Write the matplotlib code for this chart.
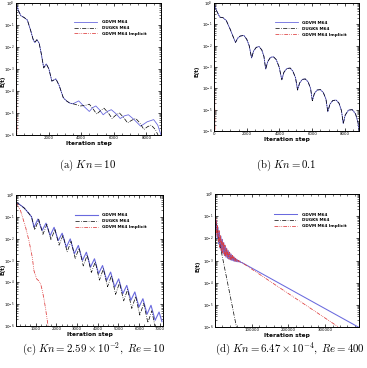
import numpy as np
import matplotlib.pyplot as plt
from matplotlib.ticker import FixedLocator, MultipleLocator, LogLocator, FormatStrFormatter

# ---- data (x = iteration, y = log10 E(t)) ----
# (a) Kn = 10
a_x_gdvm = [0, 150, 300, 500, 700, 900, 1050, 1150, 1280, 1420, 1550, 1700, 1860, 2020, 2200, 2450,
            2650, 2900, 3100, 3300, 3500, 3850, 4200, 4500, 4700, 4900, 5120, 5350, 5600, 5850, 6120,
            6400, 6650, 6900, 7250, 7650, 8050, 8450, 8700, 8900]
a_y_gdvm = [0, -0.35, -0.58, -0.66, -0.78, -1.25, -1.65, -1.8, -1.67, -1.82, -2.3, -2.95, -2.77, -3.0,
            -3.55, -3.45, -3.75, -4.3, -4.45, -4.55, -4.58, -4.45, -4.72, -4.93, -4.76, -4.68, -4.85,
            -5.08, -4.93, -4.85, -5.02, -5.25, -5.13, -5.08, -5.3, -5.6, -5.4, -5.3, -5.55, -6.0]
a_x_dugks = [0, 150, 300, 500, 700, 900, 1050, 1150, 1280, 1420, 1550, 1700, 1860, 2020, 2200, 2450,
             2650, 2900, 3100, 3300, 3600, 3950, 4220, 4500, 4720, 4950, 5180, 5400, 5650, 5900, 6120,
             6350, 6600, 6850, 7100, 7350, 7600, 7850, 8080, 8300, 8550, 8750]
a_y_dugks = [0, -0.35, -0.58, -0.66, -0.78, -1.25, -1.65, -1.8, -1.67, -1.82, -2.3, -2.95, -2.77, -3.0,
             -3.55, -3.45, -3.75, -4.3, -4.45, -4.55, -4.6, -4.68, -4.66, -4.6, -4.8, -5.05, -4.9,
             -4.78, -4.98, -5.25, -5.1, -5.0, -5.2, -5.45, -5.33, -5.25, -5.45, -5.75, -5.62, -5.55,
             -5.75, -6.05]
a_x_impl = [0, 20, 40, 60]
a_y_impl = [0, -2.0, -4.0, -6.1]

# (b) Kn = 0.1
b_x_gdvm = [0, 150, 350, 550, 750, 1000, 1180, 1313, 1450, 1600, 1826, 2000, 2150, 2297, 2420, 2580,
            2749, 2920, 3050, 3159, 3280, 3450, 3631, 3800, 3980, 4144, 4270, 4450, 4657, 4820, 4980,
            5108, 5230, 5400, 5580, 5750, 5900, 6010, 6130, 6300, 6503, 6680, 6840, 6954, 7080, 7260,
            7467, 7640, 7790, 7897, 8020, 8220, 8451, 8650, 8800, 8862]
b_y_gdvm = [0, -0.35, -0.66, -0.69, -0.82, -1.25, -1.6, -1.85, -1.65, -1.55, -1.52, -1.7, -2.0, -2.58,
            -2.25, -2.08, -2.04, -2.2, -2.5, -3.1, -2.75, -2.55, -2.52, -2.65, -3.0, -3.6, -3.25, -3.07,
            -3.05, -3.2, -3.5, -4.08, -3.75, -3.58, -3.56, -3.7, -4.0, -4.58, -4.25, -4.08, -4.06, -4.2,
            -4.5, -5.1, -4.75, -4.57, -4.55, -4.7, -5.05, -5.65, -5.25, -5.02, -5.0, -5.2, -5.6, -6.0]
b_x_dugks = b_x_gdvm
b_y_dugks = b_y_gdvm
b_x_impl = [0, 20, 40, 60]
b_y_impl = [0, -2.0, -4.0, -6.1]

# (c) Kn = 2.59e-2, Re = 10
c_x_gdvm = [50, 250, 450, 650, 800, 920, 1110, 1310, 1500, 1700, 1890, 2090, 2280, 2480, 2670, 2870,
            3060, 3260, 3450, 3650, 3840, 4040, 4230, 4430, 4620, 4820, 5010, 5210, 5400, 5600, 5790,
            5990, 6180, 6380, 6570, 6770, 6960, 7100]
c_y_gdvm = [-0.33, -0.45, -0.6, -0.82, -1.0, -1.48, -1.1, -1.63, -1.29, -1.86, -1.48, -2.09, -1.75,
            -2.39, -2.01, -2.69, -2.31, -3.0, -2.62, -3.3, -2.92, -3.6, -3.23, -3.91, -3.53, -4.22,
            -3.84, -4.52, -4.14, -4.82, -4.44, -5.13, -4.75, -5.46, -5.05, -5.74, -5.36, -5.8]
c_x_dugks = [50, 250, 450, 650, 800, 960, 1150, 1350, 1540, 1740, 1930, 2130, 2320, 2520, 2710, 2910,
             3100, 3300, 3490, 3690, 3880, 4080, 4270, 4470, 4660, 4860, 5050, 5250, 5440, 5640, 5830,
             6030, 6220, 6420, 6610, 6780]
c_y_dugks = [-0.33, -0.45, -0.6, -0.82, -1.0, -1.6, -1.12, -1.8, -1.35, -2.05, -1.57, -2.3, -1.85,
             -2.6, -2.12, -2.9, -2.43, -3.25, -2.75, -3.55, -3.06, -3.9, -3.38, -4.2, -3.7, -4.55,
             -4.02, -4.85, -4.33, -5.2, -4.65, -5.5, -4.97, -5.85, -5.3, -6.1]
c_x_impl = [50, 270, 514, 675, 836, 916, 1045, 1158, 1238, 1318, 1399, 1479, 1560, 1610]
c_y_impl = [-0.33, -0.72, -1.48, -2.09, -2.85, -3.46, -3.84, -3.94, -4.06, -4.37, -4.75, -5.21,
            -5.74, -6.05]

# (d) Kn = 6.47e-4, Re = 400
d_x_gdvm = [0, 2000, 4000, 6000, 8000, 10000, 12000, 14000, 16000, 18000, 20000, 22000, 24000, 26000,
            28000, 30000, 32000, 34000, 36000, 38000, 40000, 42000, 44000, 46000, 48000, 50000, 52000,
            54000, 56000, 58000, 60000, 62000, 64000, 66000, 68000, 70000, 74000, 392000]
d_y_gdvm = [-0.9, -1.55, -1.2, -2.0, -1.5, -2.25, -1.72, -2.45, -1.9, -2.6, -2.05, -2.7, -2.2,
            -2.78, -2.35, -2.85, -2.46, -2.9, -2.56, -2.94, -2.65, -2.97, -2.72, -3.0, -2.79, -3.02,
            -2.85, -3.04, -2.9, -3.05, -2.95, -3.06, -3.0, -3.07, -3.03, -3.08, -3.1, -6.02]
d_x_dugks = [0, 4000, 9000, 59000]
d_y_dugks = [-0.9, -1.5, -1.92, -6.05]
d_x_impl = [0, 1000, 3000, 5000, 7000, 9000, 11000, 13000, 15000, 17000, 19000, 21000, 23000, 25000,
            27000, 29000, 31000, 33000, 35000, 37000, 39000, 41000, 43000, 45000, 47000, 49000, 51000,
            53000, 55000, 57000, 59000, 61000, 63000, 65000, 67000, 69000, 74000, 338000]
d_y_impl = [-0.9, -1.35, -1.1, -1.9, -1.42, -2.18, -1.65, -2.4, -1.85, -2.55, -2.02, -2.66, -2.17,
            -2.76, -2.3, -2.83, -2.42, -2.88, -2.53, -2.92, -2.62, -2.95, -2.7, -2.98, -2.77, -3.0,
            -2.83, -3.02, -2.88, -3.04, -2.94, -3.05, -2.99, -3.06, -3.02, -3.07, -3.1, -6.02]

labels = ['GDVM M64', 'DUGKS M64', 'GDVM M64 Implicit']
captions = [r'$\mathrm{(a)}\ Kn = 10$', r'$\mathrm{(b)}\ Kn = 0.1$',
            r'$\mathrm{(c)}\ Kn = 2.59\times10^{-2},\ Re = 10$',
            r'$\mathrm{(d)}\ Kn = 6.47\times10^{-4},\ Re = 400$']

blue = '#6a6ade'
red = '#dd3a3a'

fig = plt.figure(figsize=(3.67, 3.68), dpi=100)
W, H = 367.0, 368.0

def make_ax(l, t, r, b):
    return fig.add_axes([l / W, 1 - b / H, (r - l) / W, (b - t) / H])

def setup(ax, xlim, ticks, minor, ylab_x, ylab_y):
    ax.set_yscale('log')
    ax.set_ylim(1e-6, 1)
    ax.set_xlim(*xlim)
    ax.xaxis.set_major_locator(FixedLocator(ticks))
    ax.xaxis.set_minor_locator(MultipleLocator(minor))
    ax.xaxis.set_major_formatter(FormatStrFormatter('%d'))
    ax.yaxis.set_major_locator(LogLocator(base=10, numticks=10))
    ax.yaxis.set_minor_locator(LogLocator(base=10, subs=np.arange(2, 10), numticks=10))
    ax.tick_params(which='both', direction='in', top=True, right=True, labelsize=2.8, pad=0.9)
    ax.tick_params(which='major', length=2.5, width=0.5)
    ax.tick_params(which='minor', length=1.2, width=0.4)
    for s in ax.spines.values():
        s.set_linewidth(0.7)
    ax.set_xlabel('Iteration step', fontsize=4.2, fontweight='bold', labelpad=0.8)
    ax.set_ylabel('E(t)', fontsize=4, fontweight='bold')
    ax.yaxis.set_label_coords(ylab_x, ylab_y)

def draw(ax, xs, ys, lw=0.6):
    (x1, y1), (x2, y2), (x3, y3) = zip(xs, ys)
    ax.plot(x1, 10.0 ** np.array(y1), color=blue, lw=lw, label=labels[0])
    ax.plot(x2, 10.0 ** np.array(y2), color='k', lw=0.5, ls=(0, (6, 2, 1, 2)), label=labels[1])
    ax.plot(x3, 10.0 ** np.array(y3), color=red, lw=0.55, ls=(0, (5, 1.5, 1, 1.5, 1, 1.5)),
            label=labels[2])

def legend(ax, x, y):
    ax.legend(loc='upper left', bbox_to_anchor=(x, y), frameon=False,
              prop={'weight': 'bold', 'size': 3.0}, handlelength=5.5, handletextpad=1.1,
              labelspacing=0.45, borderpad=0, borderaxespad=0)

# (a)
ax = make_ax(16, 3, 161, 135)
draw(ax, [a_x_gdvm, a_x_dugks, a_x_impl], [a_y_gdvm, a_y_dugks, a_y_impl])
setup(ax, (0, 8900), [2000, 4000, 6000, 8000], 500, -0.074, 0.41)
legend(ax, 0.4, 0.87)

# (b)
ax = make_ax(214, 3, 359, 131)
draw(ax, [b_x_gdvm, b_x_dugks, b_x_impl], [b_y_gdvm, b_y_dugks, b_y_impl])
setup(ax, (0, 8860), [0, 2000, 4000, 6000, 8000], 500, -0.1, 0.47)
legend(ax, 0.42, 0.86)

# (c)
ax = make_ax(16, 195, 163, 326)
draw(ax, [c_x_gdvm, c_x_dugks, c_x_impl], [c_y_gdvm, c_y_dugks, c_y_impl], lw=0.8)
setup(ax, (50, 7150), [1000, 2000, 3000, 4000, 5000, 6000, 7000], 250, -0.073, 0.43)
legend(ax, 0.4, 0.86)

# (d)
ax = make_ax(215, 194, 359, 327)
draw(ax, [d_x_gdvm, d_x_dugks, d_x_impl], [d_y_gdvm, d_y_dugks, d_y_impl], lw=0.75)
setup(ax, (0, 392000), [100000, 200000, 300000], 20000, -0.1, 0.46)
legend(ax, 0.41, 0.86)

# captions
for (cx, cy), txt in zip([(88, 165), (286, 165), (94, 349), (290, 349)], captions):
    fig.text(cx / W, 1 - cy / H, txt, ha='center', va='center', fontsize=7.8, math_fontfamily='cm')

fig.savefig('out.png', dpi=100)
